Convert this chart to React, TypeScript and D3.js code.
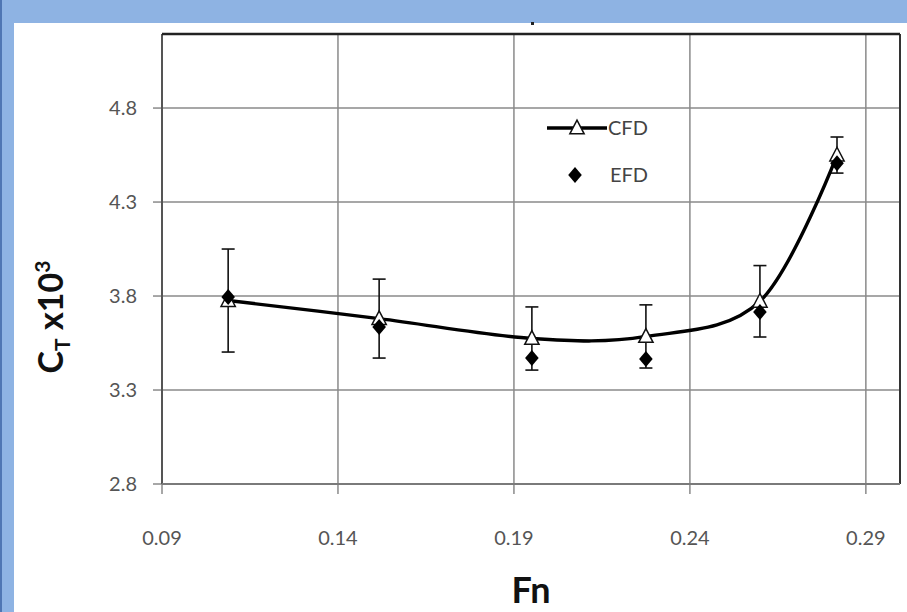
import React from "react";
import * as d3 from "d3";

const fnValues = [0.1088, 0.1517, 0.1951, 0.2275, 0.2599, 0.2818];
const cfdValues = [3.776, 3.68, 3.574, 3.585, 3.772, 4.55];
const cfdErrors = [0.274, 0.21, 0.168, 0.168, 0.19, 0.096];
const efdValues = [3.795, 3.635, 3.47, 3.465, 3.715, 4.507];
const xTicks = [0.09, 0.14, 0.19, 0.24, 0.29];
const yTicks = [2.8, 3.3, 3.8, 4.3, 4.8];
const xTickLabels = ["0.09", "0.14", "0.19", "0.24", "0.29"];
const yTickLabels = ["2.8", "3.3", "3.8", "4.3", "4.8"];

const W = 907;
const H = 612;
const L = 162, R = 900, T = 34, B = 484;
const FONT = "Lato, 'Open Sans', sans-serif";

export default function App() {
  const x = d3.scaleLinear().domain([0.09, 0.2997]).range([L, R]);
  const y = d3.scaleLinear().domain([2.8, 5.194]).range([B, T]);

  const cfdPts: [number, number][] = fnValues.map((f, i) => [x(f), y(cfdValues[i])]);
  const line = d3.line().curve(d3.curveCardinal.tension(0))(cfdPts) || "";

  const tri = (cx: number, cy: number, s: number) =>
    `M${cx},${cy - s * 0.6}L${cx + s * 0.55},${cy + s * 0.45}L${cx - s * 0.55},${cy + s * 0.45}Z`;
  const dia = (cx: number, cy: number, s: number) =>
    `M${cx},${cy - s}L${cx + s * 0.85},${cy}L${cx},${cy + s}L${cx - s * 0.85},${cy}Z`;

  const grid = "#8a8a8a";
  return (
    <svg width={W} height={H} style={{ position: "absolute", left: 0, top: 0, background: "#fff" }}>
      {/* blue frame */}
      <rect x={0} y={0} width={W} height={23} fill="#8eb3e3" />
      <rect x={0} y={0} width={14} height={H} fill="#8eb3e3" />
      <rect x={0} y={0} width={2} height={H} fill="#4f76b3" />
      <rect x={531} y={22} width={3} height={3} fill="#222" />

      {/* gridlines */}
      {xTicks.slice(1).map((t) => (
        <line key={"gx" + t} x1={x(t)} x2={x(t)} y1={T} y2={B} stroke={grid} strokeWidth={1.5} />
      ))}
      {yTicks.slice(1).map((t) => (
        <line key={"gy" + t} x1={L} x2={R} y1={y(t)} y2={y(t)} stroke={grid} strokeWidth={1.5} />
      ))}
      {/* tick marks */}
      {xTicks.map((t) => (
        <line key={"tx" + t} x1={x(t)} x2={x(t)} y1={B} y2={B + 10} stroke={grid} strokeWidth={1.5} />
      ))}
      {yTicks.map((t) => (
        <line key={"ty" + t} x1={L - 9} x2={L} y1={y(t)} y2={y(t)} stroke={grid} strokeWidth={1.5} />
      ))}
      {/* frame */}
      <line x1={L} x2={L} y1={T} y2={B} stroke="#555" strokeWidth={2} />
      <line x1={R} x2={R} y1={T} y2={B} stroke="#333" strokeWidth={2} />
      <line x1={L} x2={R} y1={T} y2={T} stroke="#222" strokeWidth={2.5} />
      <line x1={L} x2={R} y1={B} y2={B} stroke="#7a7a7a" strokeWidth={2} />

      {/* tick labels */}
      {xTicks.map((t, i) => (
        <text key={"lx" + t} x={x(t)} y={545} textAnchor="middle" fontFamily={FONT} fontSize={20} fill="#555">
          {xTickLabels[i]}
        </text>
      ))}
      {yTicks.map((t, i) => (
        <text key={"ly" + t} x={137} y={y(t) + 7} textAnchor="end" fontFamily={FONT} fontSize={20} fill="#555">
          {yTickLabels[i]}
        </text>
      ))}

      {/* axis titles */}
      <text x={(L + R) / 2} y={603} textAnchor="middle" fontFamily={FONT} fontWeight={700} fontSize={36} fill="#111">
        Fn
      </text>
      <text transform="translate(63,317) rotate(-90)" textAnchor="middle" fontFamily={FONT} fontWeight={700} fontSize={34} fill="#111">
        C<tspan fontSize={21} dy={7}>T</tspan>
        <tspan dy={-7}> x10</tspan>
        <tspan fontSize={21} dy={-13}>3</tspan>
      </text>

      {/* error bars */}
      {fnValues.map((f, i) => {
        const cx = x(f);
        const y1 = y(cfdValues[i] + cfdErrors[i]);
        const y2 = y(cfdValues[i] - cfdErrors[i]);
        return (
          <g key={"e" + i} stroke="#111" strokeWidth={1.6}>
            <line x1={cx} x2={cx} y1={y1} y2={y2} />
            <line x1={cx - 6.5} x2={cx + 6.5} y1={y1} y2={y1} />
            <line x1={cx - 6.5} x2={cx + 6.5} y1={y2} y2={y2} />
          </g>
        );
      })}

      {/* CFD line */}
      <path d={line} fill="none" stroke="#000" strokeWidth={3.4} />
      {cfdPts.map(([cx, cy], i) => (
        <path key={"t" + i} d={tri(cx, cy, 13)} fill="#fff" stroke="#111" strokeWidth={1.5} />
      ))}
      {/* EFD */}
      {fnValues.map((f, i) => (
        <path key={"d" + i} d={dia(x(f), y(efdValues[i]), 8)} fill="#000" />
      ))}

      {/* legend */}
      <line x1={547} x2={607} y1={128} y2={128} stroke="#000" strokeWidth={3.4} />
      <path d={tri(577, 128, 13)} fill="#fff" stroke="#111" strokeWidth={1.5} />
      <text x={608} y={135} fontFamily={FONT} fontSize={20} fill="#444">CFD</text>
      <path d={dia(575, 175, 8)} fill="#000" />
      <text x={610} y={182} fontFamily={FONT} fontSize={20} fill="#444">EFD</text>
    </svg>
  );
}
